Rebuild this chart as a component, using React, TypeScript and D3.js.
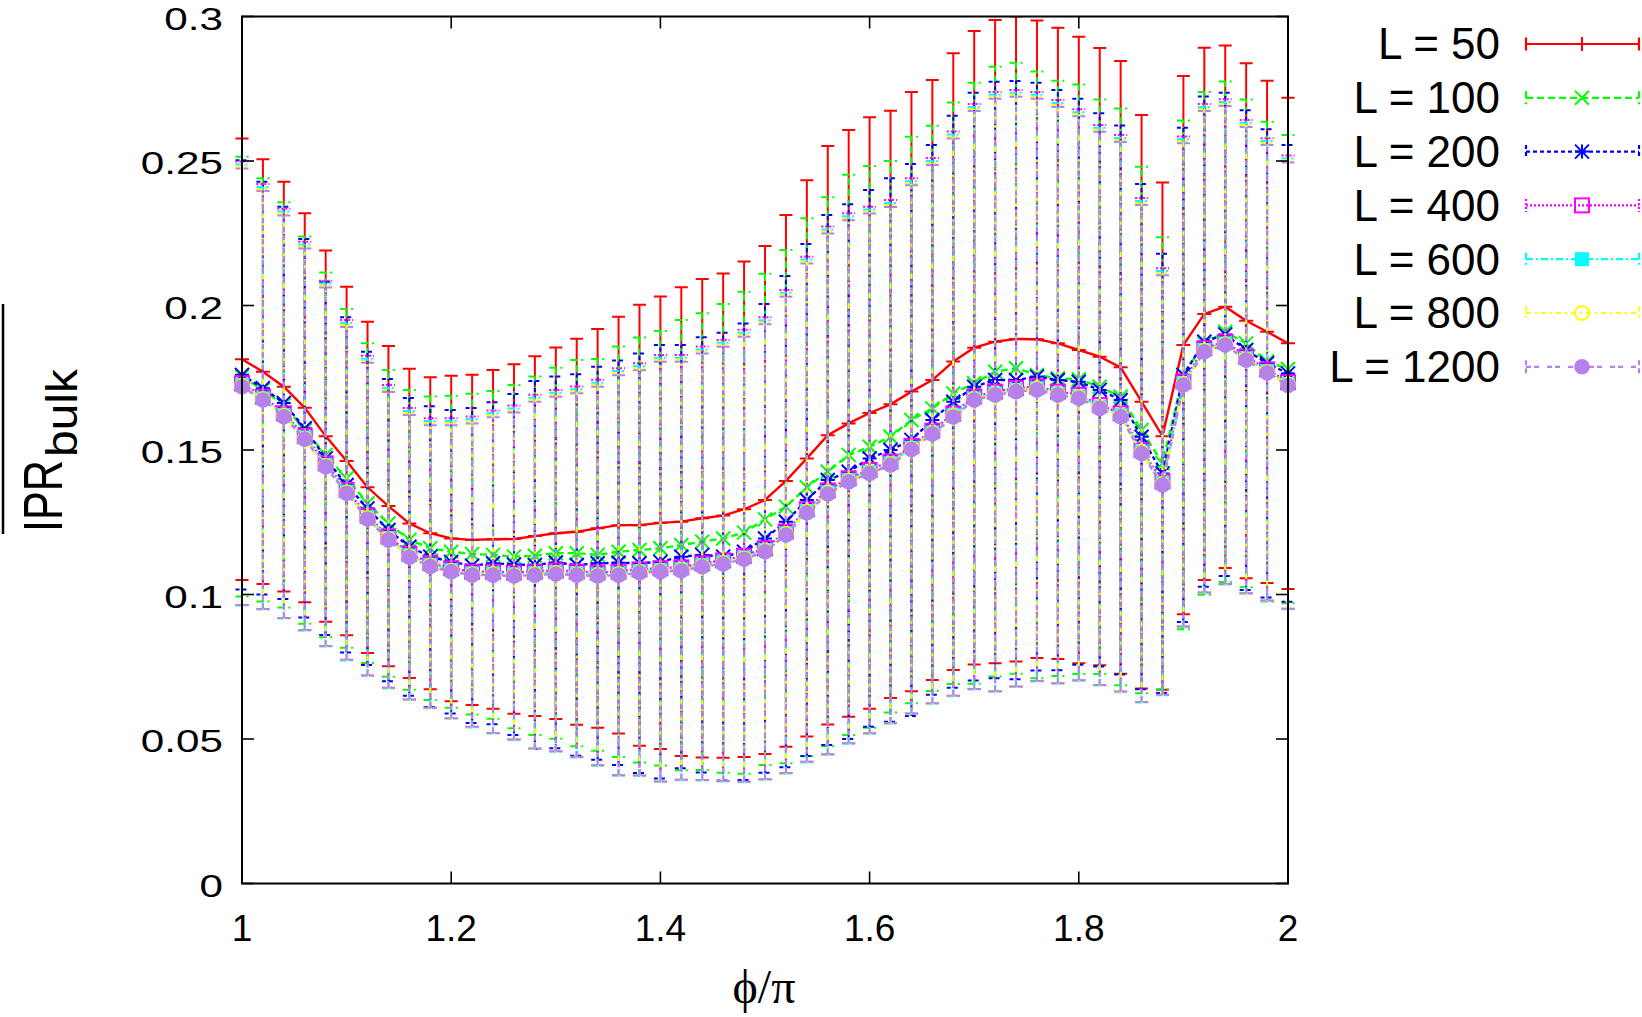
import * as d3 from "d3";

const PHI = [
  1.0, 1.02, 1.04, 1.06, 1.08, 1.1, 1.12, 1.14, 1.16, 1.18, 1.2, 1.22, 1.24, 1.26, 1.28, 1.3, 1.32,
  1.34, 1.36, 1.38, 1.4, 1.42, 1.44, 1.46, 1.48, 1.5, 1.52, 1.54, 1.56, 1.58, 1.6, 1.62, 1.64,
  1.66, 1.68, 1.7, 1.72, 1.74, 1.76, 1.78, 1.8, 1.82, 1.84, 1.86, 1.88, 1.9, 1.92, 1.94, 1.96,
  1.98, 2.0,
];

const X_TICKS = [1, 1.2, 1.4, 1.6, 1.8, 2];
const Y_TICKS = [0, 0.05, 0.1, 0.15, 0.2, 0.25, 0.3];

// L = 50
const MEAN_50 = [
  0.1814, 0.1771, 0.1719, 0.1646, 0.1548, 0.1462, 0.1371, 0.1306, 0.1246, 0.1212, 0.1194, 0.1189,
  0.1191, 0.1192, 0.1202, 0.1212, 0.1217, 0.1229, 0.124, 0.124, 0.1248, 0.1252, 0.1264, 0.1273,
  0.1295, 0.1327, 0.1393, 0.1471, 0.1551, 0.1592, 0.1628, 0.1658, 0.1702, 0.1742, 0.1806, 0.1854,
  0.1875, 0.1884, 0.1883, 0.1869, 0.1846, 0.1823, 0.1786, 0.1667, 0.1548, 0.1863, 0.1971, 0.1996,
  0.1947, 0.1909, 0.1869,
];
const ERR_50 = [
  0.0764, 0.0735, 0.0709, 0.0673, 0.0642, 0.0603, 0.0573, 0.0554, 0.0535, 0.054, 0.0563, 0.0571,
  0.0586, 0.0605, 0.0622, 0.0643, 0.0668, 0.069, 0.0721, 0.0763, 0.0783, 0.0811, 0.0828, 0.0838,
  0.0857, 0.0879, 0.092, 0.0962, 0.1001, 0.1015, 0.1023, 0.1016, 0.1037, 0.1038, 0.1067, 0.1096,
  0.1113, 0.1116, 0.1103, 0.1092, 0.1084, 0.1068, 0.106, 0.0992, 0.0878, 0.0931, 0.0921, 0.0904,
  0.0891, 0.0869, 0.085,
];

// L = 100
const MEAN_100 = [
  0.1754, 0.1708, 0.1656, 0.1569, 0.1483, 0.1402, 0.1316, 0.1246, 0.1189, 0.116, 0.1148, 0.114,
  0.1137, 0.1131, 0.1134, 0.1143, 0.1143, 0.1137, 0.1148, 0.1154, 0.116, 0.1171, 0.1183, 0.1194,
  0.1214, 0.126, 0.1304, 0.1371, 0.1425, 0.1483, 0.1511, 0.1546, 0.1604, 0.1644, 0.1696, 0.1731,
  0.1771, 0.1783, 0.176, 0.1748, 0.1745, 0.1719, 0.1684, 0.1569, 0.1454, 0.176, 0.1869, 0.1909,
  0.1869, 0.1806, 0.178,
];
const ERR_100 = [
  0.0761, 0.0732, 0.0701, 0.067, 0.0631, 0.0586, 0.0553, 0.0531, 0.0519, 0.0525, 0.054, 0.0555,
  0.0567, 0.0594, 0.062, 0.0642, 0.0668, 0.0678, 0.071, 0.0735, 0.0752, 0.0779, 0.079, 0.0811,
  0.0834, 0.085, 0.0888, 0.0931, 0.095, 0.0969, 0.0972, 0.0954, 0.098, 0.0978, 0.1006, 0.104,
  0.1055, 0.1057, 0.105, 0.103, 0.102, 0.0994, 0.0998, 0.0911, 0.0782, 0.088, 0.087, 0.0866,
  0.0844, 0.083, 0.081,
];

// L = 200
const MEAN_200 = [
  0.176, 0.1714, 0.1663, 0.1575, 0.1471, 0.1379, 0.1298, 0.1223, 0.1165, 0.1131, 0.1113, 0.11,
  0.1108, 0.1104, 0.1102, 0.1111, 0.1102, 0.1108, 0.111, 0.1108, 0.1113, 0.1131, 0.1137, 0.1131,
  0.1148, 0.1194, 0.1252, 0.1327, 0.1396, 0.1425, 0.1471, 0.15, 0.1535, 0.1604, 0.1667, 0.1719,
  0.1742, 0.1742, 0.1754, 0.1742, 0.1736, 0.1708, 0.1673, 0.1546, 0.1419, 0.176, 0.1875, 0.19,
  0.1846, 0.18, 0.1765,
];
const ERR_200 = [
  0.0743, 0.0714, 0.0679, 0.0655, 0.0611, 0.058, 0.0542, 0.0523, 0.0515, 0.052, 0.0525, 0.0545,
  0.0557, 0.059, 0.0637, 0.0643, 0.066, 0.068, 0.07, 0.0726, 0.075, 0.0732, 0.0753, 0.0775,
  0.079, 0.0811, 0.085, 0.0886, 0.0917, 0.0925, 0.0929, 0.094, 0.0955, 0.0951, 0.099, 0.1017,
  0.1032, 0.1035, 0.1017, 0.1004, 0.0979, 0.0957, 0.095, 0.0874, 0.076, 0.0855, 0.0848, 0.0836,
  0.083, 0.081, 0.079,
];

// L = 400
const MEAN_400 = [
  0.1731, 0.1685, 0.1627, 0.1549, 0.1454, 0.1362, 0.1273, 0.1201, 0.1141, 0.1109, 0.1091, 0.1079,
  0.1079, 0.1076, 0.1079, 0.1083, 0.1079, 0.1076, 0.1079, 0.1087, 0.1091, 0.1094, 0.1108, 0.1118,
  0.1134, 0.116, 0.1218, 0.1295, 0.136, 0.1402, 0.1431, 0.146, 0.1514, 0.1567, 0.1626, 0.1685,
  0.1702, 0.1714, 0.172, 0.1702, 0.1691, 0.1656, 0.1627, 0.15, 0.1391, 0.1737, 0.1852, 0.1875,
  0.1823, 0.1779, 0.1735,
];
const ERR_400 = [
  0.0767, 0.0735, 0.0708, 0.0672, 0.0632, 0.0588, 0.0553, 0.0524, 0.0504, 0.0501, 0.0519, 0.0537,
  0.0558, 0.0578, 0.0612, 0.0625, 0.0641, 0.0667, 0.0704, 0.0713, 0.0738, 0.0735, 0.075, 0.0763,
  0.0782, 0.0799, 0.0836, 0.0874, 0.0913, 0.0917, 0.0911, 0.0905, 0.0926, 0.0943, 0.0976, 0.1012,
  0.1037, 0.1032, 0.1019, 0.1009, 0.0988, 0.0969, 0.0963, 0.0872, 0.0738, 0.0848, 0.0845, 0.0839,
  0.0819, 0.08, 0.0784,
];

// L = 600
const MEAN_600 = [
  0.1725, 0.1679, 0.1621, 0.1543, 0.1448, 0.1356, 0.1267, 0.1195, 0.1135, 0.1103, 0.1085, 0.1073,
  0.1073, 0.107, 0.1073, 0.1077, 0.1073, 0.107, 0.1073, 0.1081, 0.1085, 0.1088, 0.1102, 0.1112,
  0.1128, 0.1154, 0.1212, 0.1289, 0.1354, 0.1396, 0.1425, 0.1454, 0.1508, 0.1561, 0.162, 0.1679,
  0.1696, 0.1708, 0.1714, 0.1696, 0.1685, 0.165, 0.1621, 0.1494, 0.1385, 0.1731, 0.1846, 0.1869,
  0.1817, 0.1773, 0.1729,
];
const ERR_600 = [
  0.0763, 0.0731, 0.0704, 0.0668, 0.0628, 0.0584, 0.0549, 0.052, 0.05, 0.0497, 0.0515, 0.0533,
  0.0554, 0.0574, 0.0608, 0.0621, 0.0637, 0.0663, 0.07, 0.0709, 0.0734, 0.0731, 0.0746, 0.0759,
  0.0778, 0.0795, 0.0832, 0.087, 0.0909, 0.0913, 0.0907, 0.0901, 0.0922, 0.0939, 0.0972, 0.1008,
  0.1033, 0.1028, 0.1015, 0.1005, 0.0984, 0.0965, 0.0959, 0.0868, 0.0734, 0.0844, 0.0841, 0.0835,
  0.0815, 0.0796, 0.078,
];

// L = 800
const MEAN_800 = [
  0.1722, 0.1676, 0.1618, 0.154, 0.1445, 0.1353, 0.1264, 0.1192, 0.1132, 0.11, 0.1082, 0.107,
  0.107, 0.1067, 0.107, 0.1074, 0.107, 0.1067, 0.107, 0.1078, 0.1082, 0.1085, 0.1099, 0.1109,
  0.1125, 0.1151, 0.1209, 0.1286, 0.1351, 0.1393, 0.1422, 0.1451, 0.1505, 0.1558, 0.1617, 0.1676,
  0.1693, 0.1705, 0.1711, 0.1693, 0.1682, 0.1647, 0.1618, 0.1491, 0.1382, 0.1728, 0.1843, 0.1866,
  0.1814, 0.177, 0.1726,
];
const ERR_800 = [
  0.0759, 0.0727, 0.07, 0.0664, 0.0624, 0.058, 0.0545, 0.0516, 0.0496, 0.0493, 0.0511, 0.0529,
  0.055, 0.057, 0.0604, 0.0617, 0.0633, 0.0659, 0.0696, 0.0705, 0.073, 0.0727, 0.0742, 0.0755,
  0.0774, 0.0791, 0.0828, 0.0866, 0.0905, 0.0909, 0.0903, 0.0897, 0.0918, 0.0935, 0.0968, 0.1004,
  0.1029, 0.1024, 0.1011, 0.1001, 0.098, 0.0961, 0.0955, 0.0864, 0.073, 0.084, 0.0837, 0.0831,
  0.0811, 0.0792, 0.0776,
];

// L = 1200
const MEAN_1200 = [
  0.1719, 0.1673, 0.1615, 0.1537, 0.1442, 0.135, 0.1261, 0.1189, 0.1129, 0.1097, 0.1079, 0.1067,
  0.1067, 0.1064, 0.1067, 0.1071, 0.1067, 0.1064, 0.1067, 0.1075, 0.1079, 0.1082, 0.1096, 0.1106,
  0.1122, 0.1148, 0.1206, 0.1283, 0.1348, 0.139, 0.1419, 0.1448, 0.1502, 0.1555, 0.1614, 0.1673,
  0.169, 0.1702, 0.1708, 0.169, 0.1679, 0.1644, 0.1615, 0.1488, 0.1379, 0.1725, 0.184, 0.1863,
  0.1811, 0.1767, 0.1723,
];
const ERR_1200 = [
  0.0755, 0.0723, 0.0696, 0.066, 0.062, 0.0576, 0.0541, 0.0512, 0.0492, 0.0489, 0.0507, 0.0525,
  0.0546, 0.0566, 0.06, 0.0613, 0.0629, 0.0655, 0.0692, 0.0701, 0.0726, 0.0723, 0.0738, 0.0751,
  0.077, 0.0787, 0.0824, 0.0862, 0.0901, 0.0905, 0.0899, 0.0893, 0.0914, 0.0931, 0.0964, 0.1,
  0.1025, 0.102, 0.1007, 0.0997, 0.0976, 0.0957, 0.0951, 0.086, 0.0726, 0.0836, 0.0833, 0.0827,
  0.0807, 0.0788, 0.0772,
];

type MarkerType = "plus" | "cross" | "star" | "square" | "fsquare" | "circle" | "fcircle";

const SERIES: {
  label: string;
  mean: number[];
  err: number[];
  color: string;
  dash: string;
  marker: MarkerType;
}[] = [
  { label: "L = 50", mean: MEAN_50, err: ERR_50, color: "#ff0000", dash: "none", marker: "plus" },
  { label: "L = 100", mean: MEAN_100, err: ERR_100, color: "#00ff00", dash: "7 4", marker: "cross" },
  { label: "L = 200", mean: MEAN_200, err: ERR_200, color: "#0000ff", dash: "4 3", marker: "star" },
  { label: "L = 400", mean: MEAN_400, err: ERR_400, color: "#ff00ff", dash: "2 2", marker: "square" },
  { label: "L = 600", mean: MEAN_600, err: ERR_600, color: "#00ffff", dash: "7 3 2 3", marker: "fsquare" },
  { label: "L = 800", mean: MEAN_800, err: ERR_800, color: "#ffff00", dash: "5 4 2 4", marker: "circle" },
  { label: "L = 1200", mean: MEAN_1200, err: ERR_1200, color: "#b482ea", dash: "5 3 5 8", marker: "fcircle" },
];

const W = 1642;
const H = 1017;
const M = { left: 242, right: 1288, top: 16.5, bottom: 883.5 };

function Marker({ type, cx, cy, color }: { type: MarkerType; cx: number; cy: number; color: string }) {
  const s = 7;
  const common = { stroke: color, strokeWidth: 2, fill: "none" };
  switch (type) {
    case "plus":
      return <path d={`M${cx - s},${cy}H${cx + s}M${cx},${cy - s}V${cy + s}`} {...common} />;
    case "cross":
      return (
        <path
          d={`M${cx - s},${cy - s}L${cx + s},${cy + s}M${cx - s},${cy + s}L${cx + s},${cy - s}`}
          {...common}
        />
      );
    case "star":
      return (
        <path
          d={`M${cx - s},${cy}H${cx + s}M${cx},${cy - s}V${cy + s}M${cx - s},${cy - s}L${cx + s},${cy + s}M${cx - s},${cy + s}L${cx + s},${cy - s}`}
          {...common}
        />
      );
    case "square":
      return <rect x={cx - s} y={cy - s} width={2 * s} height={2 * s} {...common} />;
    case "fsquare":
      return <rect x={cx - s} y={cy - s} width={2 * s} height={2 * s} fill={color} />;
    case "circle":
      return <circle cx={cx} cy={cy} r={s} {...common} />;
    case "fcircle":
      return <circle cx={cx} cy={cy} r={7.8} fill={color} />;
  }
}

export default function App() {
  const x = d3.scaleLinear().domain([1, 2]).range([M.left, M.right]);
  const y = d3.scaleLinear().domain([0, 0.3]).range([M.bottom, M.top]);
  const cap = 6.5;

  const font = "'Liberation Sans', Arial, Helvetica, sans-serif";

  return (
    <svg
      width={W}
      height={H}
      style={{ position: "absolute", left: 0, top: 0, background: "#fff" }}
      fontFamily={font}
    >
      <defs>
        <clipPath id="plotClip">
          <rect x={M.left - 10} y={M.top} width={M.right - M.left + 20} height={M.bottom - M.top} />
        </clipPath>
      </defs>

      <g clipPath="url(#plotClip)">
        {SERIES.map((s) => {
          const line = d3
            .line<number>()
            .x((_, i) => x(PHI[i]))
            .y((d) => y(d));
          return (
            <g key={s.label}>
              {s.mean.map((m, i) => {
                const px = x(PHI[i]);
                const y1 = y(m + s.err[i]);
                const y0 = y(m - s.err[i]);
                return (
                  <path
                    key={i}
                    d={`M${px},${y0}V${y1}M${px - cap},${y1}H${px + cap}M${px - cap},${y0}H${px + cap}`}
                    stroke={s.color}
                    strokeWidth={2}
                    strokeDasharray={s.dash}
                    fill="none"
                  />
                );
              })}
              <path
                d={line(s.mean) || ""}
                stroke={s.color}
                strokeWidth={2.4}
                strokeDasharray={s.dash}
                fill="none"
              />
              {s.mean.map((m, i) => (
                <Marker key={i} type={s.marker} cx={x(PHI[i])} cy={y(m)} color={s.color} />
              ))}
            </g>
          );
        })}
      </g>

      {/* frame and ticks */}
      <rect
        x={M.left}
        y={M.top}
        width={M.right - M.left}
        height={M.bottom - M.top}
        fill="none"
        stroke="#000"
        strokeWidth={2}
      />
      {X_TICKS.map((t) => (
        <g key={t}>
          <line x1={x(t)} x2={x(t)} y1={M.bottom} y2={M.bottom - 12} stroke="#000" strokeWidth={1.6} />
          <line x1={x(t)} x2={x(t)} y1={M.top} y2={M.top + 12} stroke="#000" strokeWidth={1.6} />
          <text x={x(t)} y={941} fontSize={37} textAnchor="middle" fill="#000">
            {String(t)}
          </text>
        </g>
      ))}
      {Y_TICKS.map((t) => (
        <g key={t}>
          <line x1={M.left} x2={M.left + 12} y1={y(t)} y2={y(t)} stroke="#000" strokeWidth={1.6} />
          <line x1={M.right} x2={M.right - 12} y1={y(t)} y2={y(t)} stroke="#000" strokeWidth={1.6} />
          <text
            transform={`translate(223,${y(t) + 13}) scale(1.32,1)`}
            fontSize={32}
            textAnchor="end"
            fill="#000"
          >
            {String(t)}
          </text>
        </g>
      ))}

      {/* axis labels */}
      <text
        x={764}
        y={1003}
        fontSize={48}
        textAnchor="middle"
        fontFamily="'Liberation Serif', 'Times New Roman', serif"
        fill="#000"
      >
        ϕ/π
      </text>
      <line x1={3} x2={3} y1={304} y2={534} stroke="#000" strokeWidth={2.5} />
      <text
        transform="translate(62,532) rotate(-90)"
        fontSize={56}
        textLength={72}
        lengthAdjust="spacingAndGlyphs"
        fill="#000"
      >
        IPR
      </text>
      <text
        transform="translate(77,457) rotate(-90)"
        fontSize={44}
        textLength={88}
        lengthAdjust="spacingAndGlyphs"
        fill="#000"
      >
        bulk
      </text>

      {/* legend */}
      {SERIES.map((s, k) => {
        const ry = 44 + k * 53.8;
        const x0 = 1526;
        const x1 = 1639;
        return (
          <g key={s.label}>
            <text x={1500} y={ry} dy="0.35em" fontSize={44} textAnchor="end" fill="#000">
              {s.label}
            </text>
            <path
              d={`M${x0},${ry}H${x1}M${x0},${ry - cap}V${ry + cap}M${x1},${ry - cap}V${ry + cap}`}
              stroke={s.color}
              strokeWidth={2.2}
              strokeDasharray={s.dash}
              fill="none"
            />
            <Marker type={s.marker} cx={1582} cy={ry} color={s.color} />
          </g>
        );
      })}
    </svg>
  );
}
